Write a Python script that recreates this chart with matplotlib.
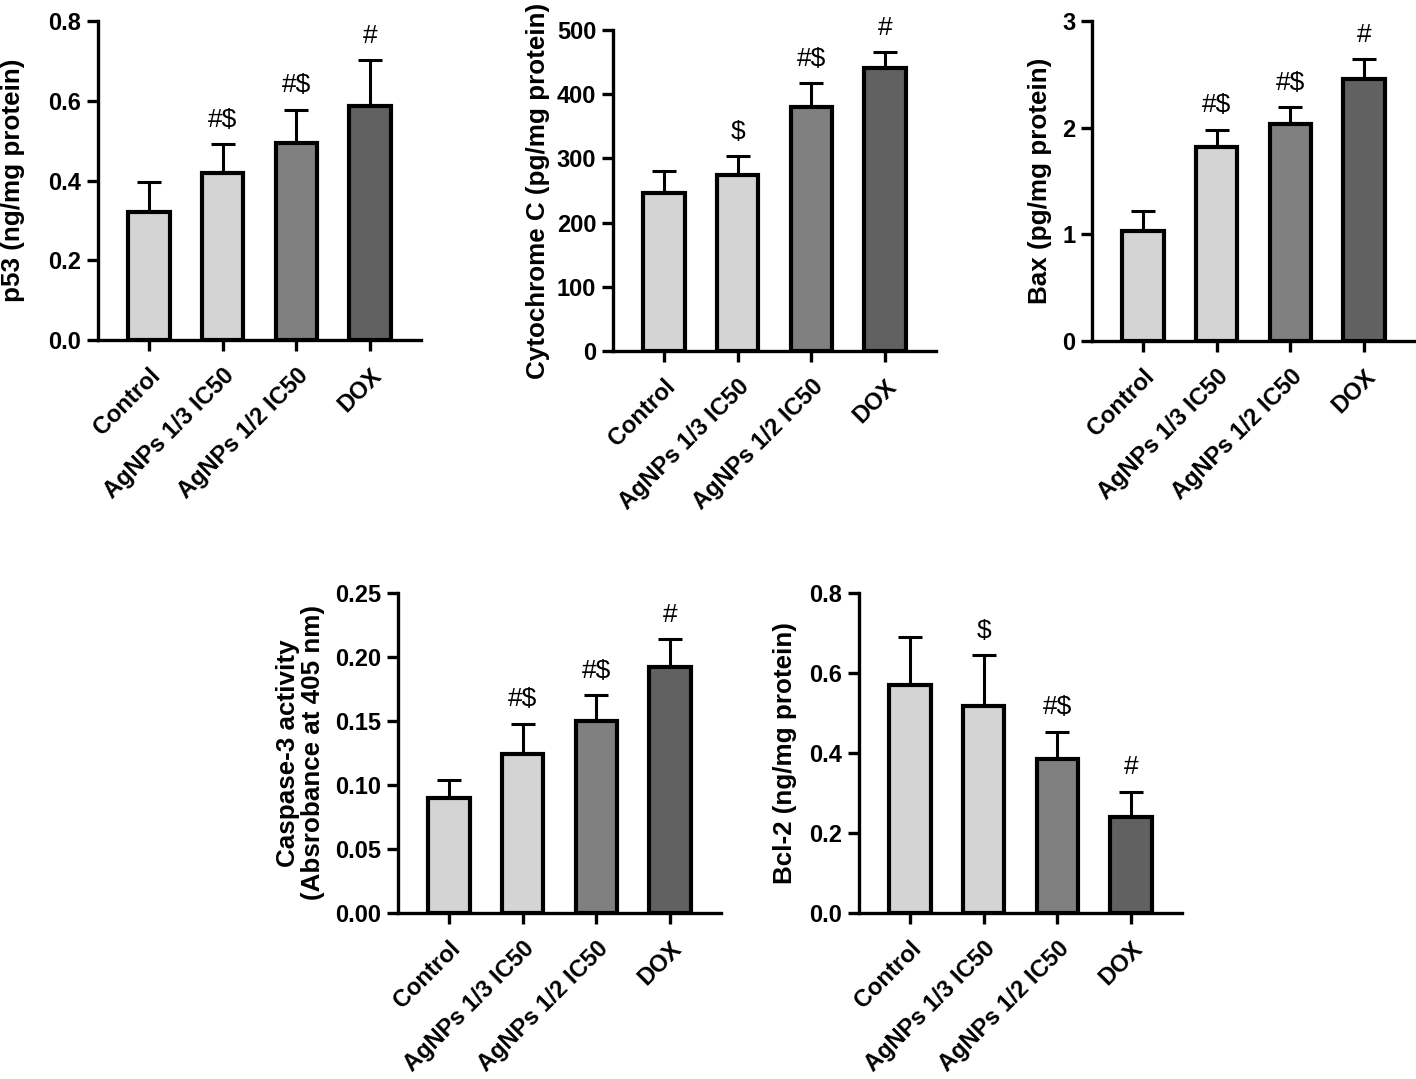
import matplotlib
matplotlib.use("Agg")
import matplotlib.pyplot as plt
import numpy as np

plt.rcParams['font.family'] = ['Liberation Sans', 'DejaVu Sans']

groups = ["Control", "AgNPs 1/3 IC50", "AgNPs 1/2 IC50", "DOX"]
bar_colors = ["#d4d4d4", "#d4d4d4", "#808080", "#616161"]

p53_mean = [0.322, 0.418, 0.495, 0.587]
p53_err = [0.074, 0.073, 0.083, 0.114]
p53_sig = ["", "#$", "#$", "#"]

cytc_mean = [246, 274, 380, 441]
cytc_err = [35, 29, 37, 24]
cytc_sig = ["", "$", "#$", "#"]

bax_mean = [1.03, 1.82, 2.03, 2.46]
bax_err = [0.19, 0.16, 0.16, 0.18]
bax_sig = ["", "#$", "#$", "#"]

casp_mean = [0.090, 0.124, 0.150, 0.192]
casp_err = [0.014, 0.024, 0.020, 0.022]
casp_sig = ["", "#$", "#$", "#"]

bcl2_mean = [0.570, 0.518, 0.385, 0.240]
bcl2_err = [0.121, 0.127, 0.068, 0.063]
bcl2_sig = ["", "$", "#$", "#"]

W, H = 1416, 1079
fig = plt.figure(figsize=(W / 100, H / 100), dpi=100)


def make_axes(left_px, top_px, bottom_px, width_px=323):
    return fig.add_axes([left_px / W, 1 - bottom_px / H, width_px / W, (bottom_px - top_px) / H])


panels = [
    dict(rect=(98, 21, 340), mean=p53_mean, err=p53_err, sig=p53_sig, ylim=(0, 0.8),
         ticks=[0.0, 0.2, 0.4, 0.6, 0.8], fmt="{:.1f}", ylabel="p53 (ng/mg protein)", lx=-0.226),
    dict(rect=(613, 30, 351), mean=cytc_mean, err=cytc_err, sig=cytc_sig, ylim=(0, 500),
         ticks=[0, 100, 200, 300, 400, 500], fmt="{:.0f}", ylabel="Cytochrome C (pg/mg protein)", lx=-0.195),
    dict(rect=(1092, 21, 341), mean=bax_mean, err=bax_err, sig=bax_sig, ylim=(0, 3),
         ticks=[0, 1, 2, 3], fmt="{:.0f}", ylabel="Bax (pg/mg protein)", lx=-0.124),
    dict(rect=(398, 593, 913), mean=casp_mean, err=casp_err, sig=casp_sig, ylim=(0, 0.25),
         ticks=[0.0, 0.05, 0.10, 0.15, 0.20, 0.25], fmt="{:.2f}",
         ylabel="Caspase-3 activity\n(Absrobance at 405 nm)", lx=-0.226),
    dict(rect=(859, 593, 913), mean=bcl2_mean, err=bcl2_err, sig=bcl2_sig, ylim=(0, 0.8),
         ticks=[0.0, 0.2, 0.4, 0.6, 0.8], fmt="{:.1f}", ylabel="Bcl-2 (ng/mg protein)", lx=-0.192),
]

x = np.arange(len(groups))
for p in panels:
    ax = make_axes(*p["rect"])
    ax.bar(x, p["mean"], width=0.56, color=bar_colors, edgecolor="black", linewidth=3.0, zorder=2)
    ax.errorbar(x, p["mean"], yerr=[np.zeros(4), p["err"]], fmt="none", ecolor="black",
                elinewidth=2.2, capsize=8.5, capthick=2.2, zorder=1)
    for xi, m, e, s in zip(x, p["mean"], p["err"], p["sig"]):
        if s:
            ax.annotate(s, xy=(xi, m + e), xytext=(0, 9), textcoords="offset points",
                        ha="center", va="bottom", fontsize=19, fontweight="normal")
    ax.set_xlim(-0.69, 3.69)
    ax.set_ylim(*p["ylim"])
    ax.set_yticks(p["ticks"])
    ax.set_yticklabels([p["fmt"].format(t) for t in p["ticks"]])
    ax.set_xticks(x)
    ax.set_xticklabels(groups, rotation=45, ha="right", va="top", rotation_mode="anchor")
    for lab in ax.get_xticklabels() + ax.get_yticklabels():
        lab.set_fontweight("bold")
        lab.set_fontsize(17)
    ax.spines["top"].set_visible(False)
    ax.spines["right"].set_visible(False)
    for sp in ("left", "bottom"):
        ax.spines[sp].set_linewidth(2.4)
    ax.tick_params(axis="both", length=8, width=2.4)
    ax.tick_params(axis="y", pad=4)
    ax.tick_params(axis="x", pad=9)
    ax.set_ylabel(p["ylabel"], fontsize=18.7, fontweight="bold", linespacing=1.05)
    ax.yaxis.set_label_coords(p["lx"], 0.5)

fig.savefig("out.png", dpi=100)
